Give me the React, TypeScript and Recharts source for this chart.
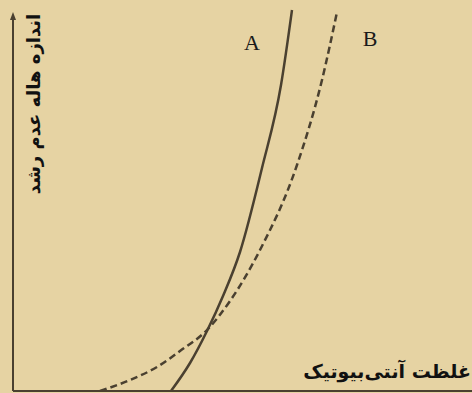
import React from "react";
import { LineChart, Line, XAxis, YAxis, ReferenceLine, Customized } from "recharts";

// Curve A (solid): antibiotic concentration vs inhibition halo size
const curveAConc = [158, 177, 194, 210, 227, 249, 268, 279];
const curveAHalo = [0, 28, 60, 95, 139, 223, 306, 381];
// Curve B (dashed)
const curveBConc = [87, 117, 144, 167, 194, 217, 247, 284, 309, 324];
const curveBHalo = [0, 11, 24, 40, 61, 90, 141, 226, 311, 379];

const xLabel = "غلظت آنتی‌بیوتیک";
const yLabel = "اندازه هاله عدم رشد";
const seriesNames = ["A", "B"];

const dataA = curveAConc.map((c, i) => ({ x: c, y: curveAHalo[i] }));
const dataB = curveBConc.map((c, i) => ({ x: c, y: curveBHalo[i] }));

const BG = "#E6D3A3";
const INK = "#4A4030";

const AxisArrow = (props: any) => {
  const { x1, y1, x2, y2 } = props;
  const top = Math.min(y1, y2);
  const bottom = Math.max(y1, y2);
  return (
    <g>
      <line x1={x1} y1={top + 4} x2={x1} y2={bottom} stroke={INK} strokeWidth={2} />
      <polygon points={`${x1 - 3},${top + 8} ${x1},${top} ${x1 + 3},${top + 8}`} fill={INK} />
    </g>
  );
};

const Texts = () => (
  <g>
    <text x={252} y={50} textAnchor="middle" fontFamily="Liberation Serif" fontSize={22} fill="#1a1a1a">
      {seriesNames[0]}
    </text>
    <text x={370} y={46} textAnchor="middle" fontFamily="Liberation Serif" fontSize={22} fill="#1a1a1a">
      {seriesNames[1]}
    </text>
    <text
      x={0}
      y={0}
      transform="translate(40,104) rotate(-90)"
      textAnchor="middle"
      fontFamily="DejaVu Sans"
      fontWeight="bold"
      fontSize={18}
      fill="#111"
    >
      {yLabel}
    </text>
    <text
      x={471}
      y={378}
      textAnchor="end"
      fontFamily="DejaVu Sans"
      fontWeight="bold"
      fontSize={19}
      fill="#111"
    >
      {xLabel}
    </text>
  </g>
);

export default function App() {
  return (
    <div style={{ position: "fixed", left: 0, top: 0, width: 472, height: 393, background: BG, overflow: "hidden" }}>
      <LineChart width={472} height={393} margin={{ top: 0, right: 0, bottom: 0, left: 0 }}>
        <XAxis
          type="number"
          dataKey="x"
          domain={[0, 459]}
          tick={false}
          tickLine={false}
          height={2}
          axisLine={{ stroke: INK, strokeWidth: 2 }}
          allowDataOverflow
        />
        <YAxis type="number" dataKey="y" domain={[0, 391]} width={13} tick={false} tickLine={false} axisLine={false} allowDataOverflow />
        <ReferenceLine
          segment={[{ x: 0, y: 0 }, { x: 0, y: 379 }]}
          ifOverflow="visible"
          shape={AxisArrow}
        />
        <Line
          data={dataA}
          dataKey="y"
          type="monotone"
          stroke={INK}
          strokeWidth={2.5}
          dot={false}
          isAnimationActive={false}
        />
        <Line
          data={dataB}
          dataKey="y"
          type="monotone"
          stroke={INK}
          strokeWidth={2.5}
          strokeDasharray="7 4"
          dot={false}
          isAnimationActive={false}
        />
        <Customized component={Texts} />
      </LineChart>
    </div>
  );
}
